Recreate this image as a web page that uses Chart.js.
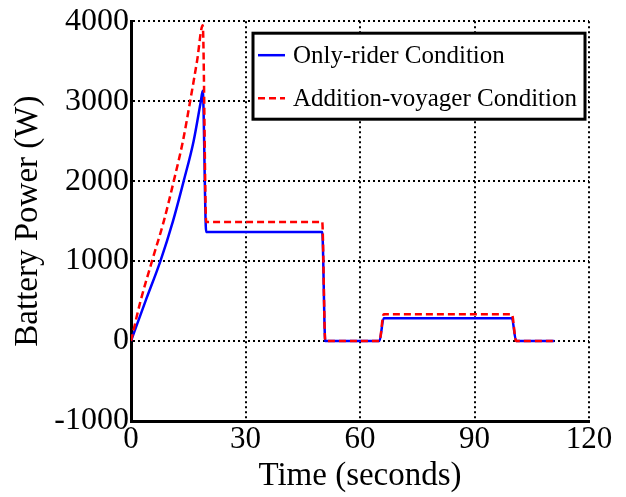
<!DOCTYPE html>
<html>
<head>
<meta charset="utf-8">
<script src="https://cdn.jsdelivr.net/npm/chart.js@4.4.1/dist/chart.umd.min.js"></script>
<style>
  html, body { margin: 0; padding: 0; background: #fff; }
  #wrap { width: 626px; height: 497px; }
</style>
</head>
<body>
<div id="wrap"><canvas id="power-chart" width="626" height="497"></canvas></div>
<script>
// Battery power over a riding cycle, two load conditions
const seriesNames = ['Only-rider Condition', 'Addition-voyager Condition'];

const riderTime  = [0, 3.8, 7.7, 11, 13.8, 16.4, 18.3, 18.8, 19.7, 50.1, 50.9, 65.1, 66.2, 99.8, 100.9, 110.9];
const riderPower = [0, 500, 1000, 1500, 2000, 2500, 3000, 3130, 1365, 1365, 0, 0, 285, 285, 0, 0];

const voyagerTime  = [0, 2.5, 5.5, 8.6, 11.2, 13.6, 15.5, 17.3, 18.8, 19.7, 50.1, 50.9, 65.1, 66.2, 99.8, 100.9, 110.9];
const voyagerPower = [0, 500, 1000, 1500, 2000, 2500, 3000, 3500, 3950, 1490, 1490, 0, 0, 335, 335, 0, 0];

const xTicks = [0, 30, 60, 90, 120];
const yTicks = [-1000, 0, 1000, 2000, 3000, 4000];

const serif = "'Liberation Serif', 'DejaVu Serif', serif";

function toPoints(xs, ys) {
    return xs.map((x, i) => ({ x: x, y: ys[i] }));
}

// boxed legend in the upper right of the plot
const boxedLegend = {
    id: 'boxedLegend',
    afterDraw(chart) {
        const ctx = chart.ctx;
        const area = chart.chartArea;
        const left = area.right - 336;
        const top = area.top + 12;
        const w = 332, h = 86;
        ctx.save();
        ctx.fillStyle = '#fff';
        ctx.fillRect(left, top, w, h);
        ctx.lineWidth = 3;
        ctx.strokeStyle = '#000';
        ctx.strokeRect(left, top, w, h);
        ctx.font = '25px ' + serif;
        ctx.textBaseline = 'middle';
        ctx.fillStyle = '#000';
        chart.data.datasets.forEach((ds, i) => {
            const y = top + 22 + i * 43;
            ctx.beginPath();
            ctx.lineWidth = 2.5;
            ctx.strokeStyle = ds.borderColor;
            ctx.setLineDash(ds.borderDash || []);
            ctx.moveTo(left + 5, y);
            ctx.lineTo(left + 32, y);
            ctx.stroke();
            ctx.setLineDash([]);
            ctx.fillText(ds.label, left + 40, y + 1);
        });
        ctx.restore();
    }
};

const ctx = document.getElementById('power-chart').getContext('2d');
const powerChart = new Chart(ctx, {
    type: 'scatter',
    data: {
        datasets: [{
            label: seriesNames[0],
            data: toPoints(riderTime, riderPower),
            showLine: true,
            borderColor: '#0000ff',
            borderWidth: 2.5,
            pointRadius: 0,
            cubicInterpolationMode: 'monotone',
            order: 2
        }, {
            label: seriesNames[1],
            data: toPoints(voyagerTime, voyagerPower),
            showLine: true,
            borderColor: '#ff0000',
            borderWidth: 2.5,
            borderDash: [7, 4],
            pointRadius: 0,
            cubicInterpolationMode: 'monotone',
            order: 1
        }]
    },
    options: {
        responsive: false,
        animation: false,
        layout: { padding: { left: 0, top: 21, right: 37, bottom: 0 } },
        plugins: {
            legend: { display: false },
            tooltip: { enabled: false }
        },
        scales: {
            x: {
                type: 'linear',
                min: 0,
                max: 120,
                afterBuildTicks: scale => { scale.ticks = xTicks.map(v => ({ value: v })); },
                afterFit: scale => { scale.height = 76; },
                ticks: {
                    color: '#000',
                    font: { family: serif, size: 31 },
                    padding: 0,
                    maxRotation: 0,
                    callback: v => String(v)
                },
                grid: { color: '#000', lineWidth: 2, drawTicks: false },
                border: { display: true, color: '#000', width: 3, dash: [2, 3] },
                title: {
                    display: true,
                    text: 'Time (seconds)',
                    color: '#000',
                    font: { family: serif, size: 33 },
                    padding: { top: 0, bottom: 1 }
                }
            },
            y: {
                min: -1000,
                max: 4000,
                afterBuildTicks: scale => { scale.ticks = yTicks.map(v => ({ value: v })); },
                afterFit: scale => { scale.width = 131; },
                ticks: {
                    color: '#000',
                    font: { family: serif, size: 32 },
                    padding: 2,
                    callback: v => String(v)
                },
                grid: { color: '#000', lineWidth: 2, drawTicks: false },
                border: { display: true, color: '#000', width: 3, dash: [2, 3] },
                title: {
                    display: true,
                    text: 'Battery Power (W)',
                    color: '#000',
                    font: { family: serif, size: 33 },
                    padding: { top: 9, bottom: 0 }
                }
            }
        }
    },
    plugins: [boxedLegend]
});
</script>
</body>
</html>
